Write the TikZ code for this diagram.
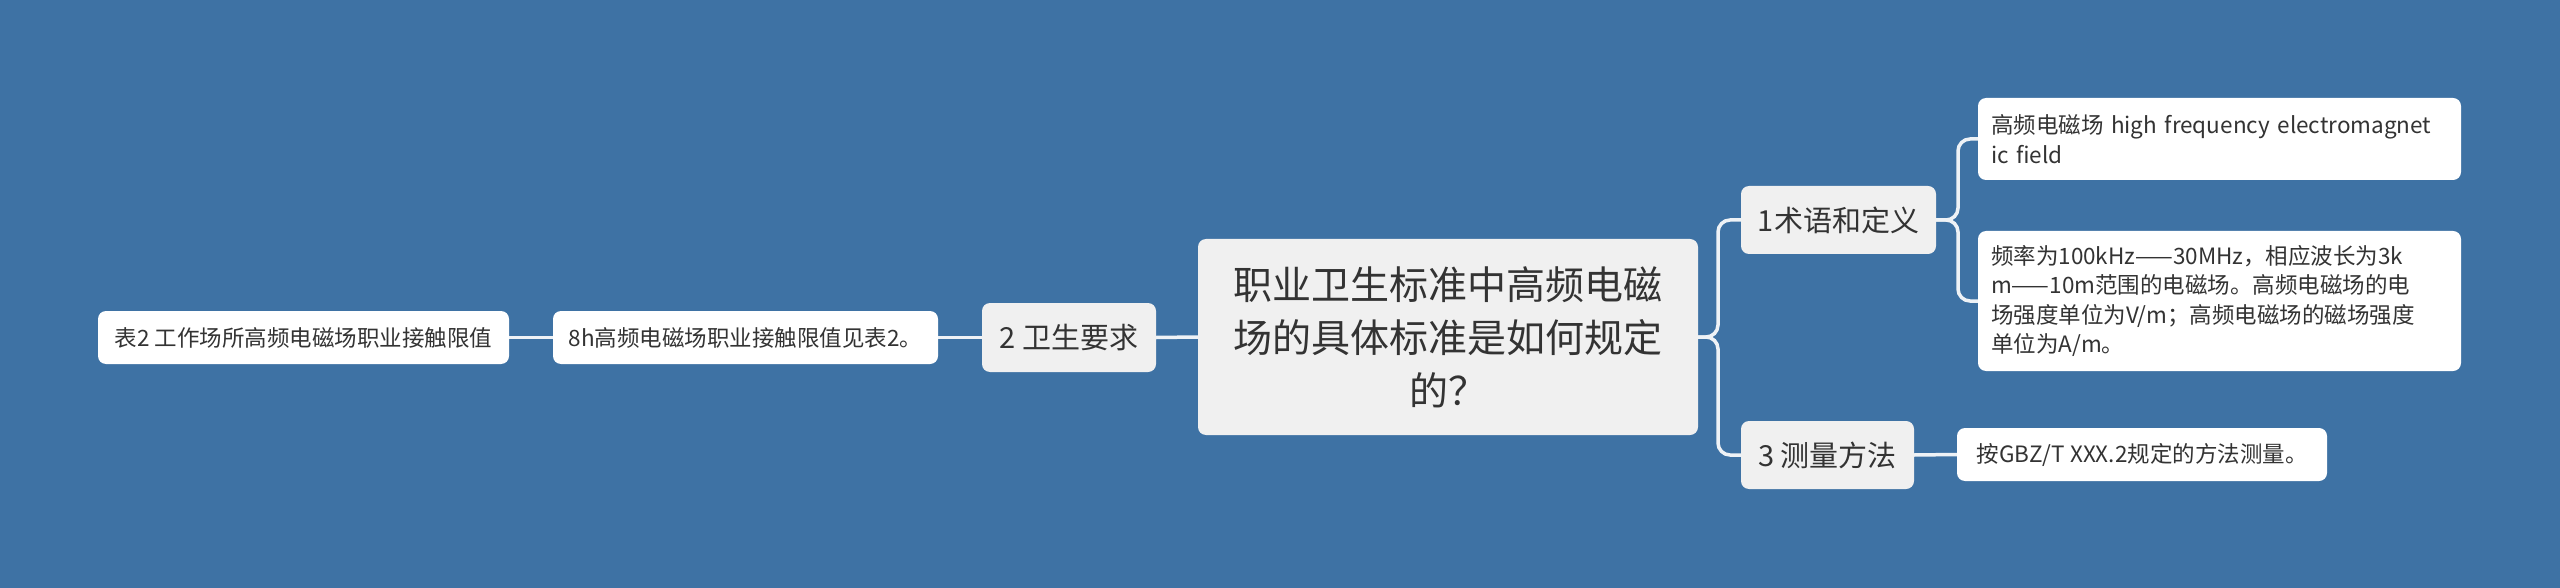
\documentclass[tikz,border=0pt]{standalone}
\usepackage{fontspec}
\setmainfont{Noto Sans CJK SC}
\definecolor{bg}{HTML}{3E72A4}
\definecolor{txt}{HTML}{333333}
\definecolor{graybox}{HTML}{F0F0F0}
\definecolor{wire}{HTML}{EEF2F6}
\begin{document}
\begin{tikzpicture}[x=1pt,y=-1pt,
  base/.style={rounded corners=8pt, text=txt, inner sep=0pt},
  rootbox/.style={base, fill=graybox, align=center, font=\fontsize{39}{53}\selectfont},
  branchbox/.style={base, fill=graybox, align=center, font=\fontsize{29}{35}\selectfont},
  leafbox/.style={base, fill=white, font=\fontsize{22.5}{29.5}\selectfont},
  conn/.style={draw=wire, line width=3.5pt, rounded corners=12pt}]
\fill[bg] (0,0) rectangle (2560,588);
\useasboundingbox (0,0) rectangle (2560,588);

\node[rootbox, minimum width=500pt, minimum height=196pt] (c) at (1448,337)
  {职业卫生标准中高频电磁\\场的具体标准是如何规定\\的？};

\node[branchbox, minimum width=195pt, minimum height=68pt] (b1) at (1838.5,220) {1术语和定义};
\node[branchbox, minimum width=173pt, minimum height=68pt] (b3) at (1827.5,455) {3 测量方法};
\node[branchbox, minimum width=174pt, minimum height=69pt] (b2) at (1069,337.5) {2 卫生要求};

\node[leafbox, align=left, text width=457pt, inner xsep=13pt, minimum height=82pt] (l1) at (2219.5,139)
  {高频电磁场 high frequency electromagnet\\ic field};
\node[leafbox, align=left, text width=457pt, inner xsep=13pt, minimum height=140pt] (l2) at (2219.5,301)
  {频率为100kHz——30MHz，相应波长为3k\\m——10m范围的电磁场。高频电磁场的电\\场强度单位为V/m；高频电磁场的磁场强度\\单位为A/m。};
\node[leafbox, align=center, minimum width=370pt, minimum height=53pt] (l3) at (2142,454.5)
  {按GBZ/T XXX.2规定的方法测量。};
\node[leafbox, align=center, minimum width=385pt, minimum height=53pt] (l4) at (745.5,337.5)
  {8h高频电磁场职业接触限值见表2。};
\node[leafbox, align=center, minimum width=411pt, minimum height=53pt] (l5) at (303.5,337.5)
  {表2 工作场所高频电磁场职业接触限值};

\coordinate (t1) at (1718,337);
\coordinate (t2) at (1958,220);
\draw[conn] (c.east) -- (t1) |- (b1.west);
\draw[conn] (c.east) -- (t1) |- (b3.west);
\draw[conn] (b1.east) -- (t2) |- (l1.west);
\draw[conn] (b1.east) -- (t2) |- (l2.west);
\draw[conn] (b3.east) -- (l3.west);
\draw[conn] (c.west) -- (b2.east);
\draw[conn] (b2.west) -- (l4.east);
\draw[conn] (l4.west) -- (l5.east);
\end{tikzpicture}
\end{document}
